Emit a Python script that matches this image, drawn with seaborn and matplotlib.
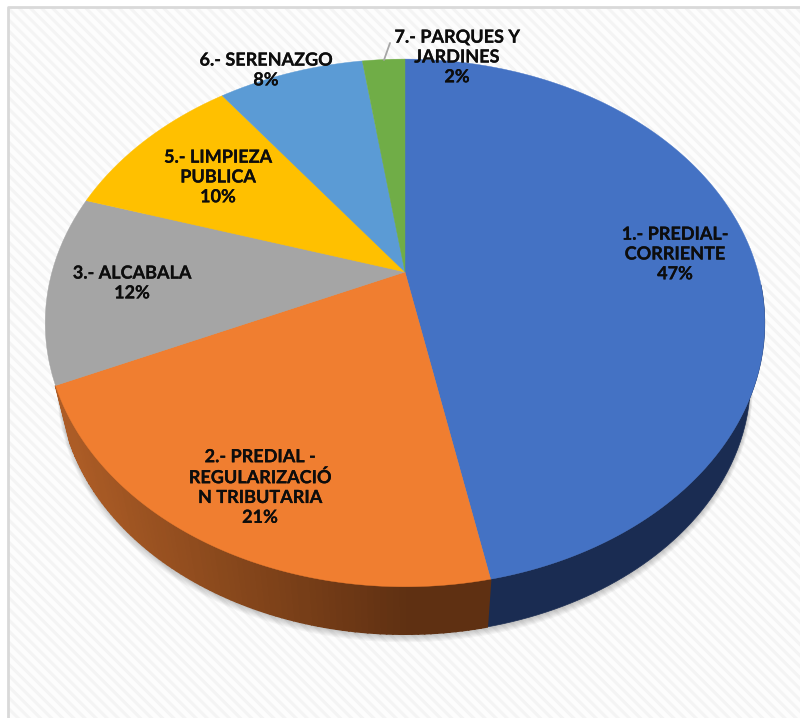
import numpy as np
import matplotlib
matplotlib.use("Agg")
import matplotlib.pyplot as plt
import matplotlib.patheffects as pe
from matplotlib.patches import Rectangle
import seaborn as sns

# Pie data, clockwise from 12 o'clock
labels = ["1.- PREDIAL-\nCORRIENTE", "2.- PREDIAL -\nREGULARIZACIÓ\nN TRIBUTARIA", "3.- ALCABALA",
          "5.- LIMPIEZA\nPUBLICA", "6.- SERENAZGO", "7.- PARQUES Y\nJARDINES"]
shares = [46.85, 21.4, 11.55, 10.0, 7.9, 2.3]
slice_colors = ["#4472C4", "#F07E30", "#A5A5A5", "#FFC000", "#5B9BD5", "#70AD47"]
label_pos = [(675, 254), (260, 487), (132, 283), (218, 177), (266, 70), (457, 57)]

sns.set_theme(style="white")
plt.rcParams['font.family'] = ['Lato', 'DejaVu Sans']
plt.rcParams['hatch.linewidth'] = 2.2
palette = sns.color_palette(slice_colors)

# perspective used for the tilted disc, in image pixels
cx, cy = 405, 272
k = 0.193
a, b = 353, 254


def rim(theta, s=1.0, dy=0.0):
    x_, y_ = np.sin(theta), np.cos(theta)
    d = 1 + k * y_
    return cx + s * a * x_ / d, cy - s * b * y_ / d + dy


def to_angle(pct):
    return np.radians(np.asarray(pct) * 3.6)


fig, ax = plt.subplots(figsize=(8, 7.18), dpi=100)
ax.set_position([0, 0, 1, 1])
ax.set_xlim(0, 800)
ax.set_ylim(718, 0)
ax.axis("off")

# hatched chart background and the grey frame on top/left
ax.add_patch(Rectangle((8, 7), 792, 711, facecolor="#fdfdfd", edgecolor="#f4f4f4", hatch="\\\\\\", lw=0, zorder=0))
ax.plot([7.5, 7.5, 800], [718, 6.5, 6.5], color="#d9d9d9", lw=2, zorder=1, solid_capstyle="butt")

bottom_s, bottom_dy = 0.96, 60

# soft shadow under the disc
t = np.linspace(0, 2 * np.pi, 400)
for i in range(7):
    sx, sy = rim(t, bottom_s + 0.0012 * i, bottom_dy + 0.8 * i + 1)
    ax.fill(sx, sy, color="black", alpha=0.035, lw=0, zorder=2)

edges = np.cumsum([0] + shares)

# side wall: only slices 1 and 2 show it
blue_side = "#1A2C52"
orange_side = sns.blend_palette(["#AC5C26", "#85461B", "#5F3012"], 100)

th = np.linspace(np.arccos(-0.05), to_angle(edges[1]), 200)
tx, ty = rim(th)
bx, by = rim(th, bottom_s, bottom_dy)
ax.fill(np.r_[tx, bx[::-1]], np.r_[ty, by[::-1]], color=blue_side, lw=0.5, zorder=3)

th = np.linspace(to_angle(edges[1]), to_angle(edges[2]), 90)
for t0, t1 in zip(th[:-1], th[1:]):
    x0, y0 = rim(t0)
    x1, y1 = rim(t1)
    x2, y2 = rim(t1, bottom_s, bottom_dy)
    x3, y3 = rim(t0, bottom_s, bottom_dy)
    f = np.clip((405 - min(x1, 405)) / 340, 0, 1)
    col = orange_side[int((1 - f) * 99)]
    ax.fill([x0, x1, x2, x3], [y0, y1, y2, y3], color=col, lw=1.2, zorder=3)

# top face
for i, col in enumerate(palette):
    th = np.linspace(to_angle(edges[i]), to_angle(edges[i + 1]), 200)
    px, py = rim(th)
    ax.fill(np.r_[cx, px], np.r_[cy, py], color=col, lw=0.3, zorder=4)

# leader for the last label
ax.plot([390, 384], [43, 60], color="#a6a6a6", lw=1.3, zorder=5)

for name, share, (lx, ly) in zip(labels, shares, label_pos):
    ax.text(lx, ly, f"{name}\n{round(share)}%", ha="center", va="center", fontsize=13, fontweight="bold",
            color="#0d0d0d", linespacing=1.2, zorder=6,
            path_effects=[pe.withStroke(linewidth=0.15, foreground="#0d0d0d")])

fig.savefig("out.png", dpi=100)
